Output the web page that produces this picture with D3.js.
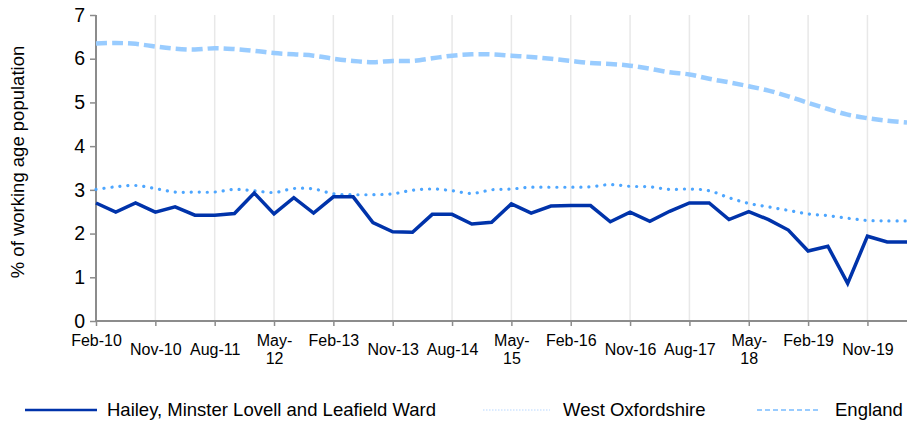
<!DOCTYPE html>
<html>
<head>
<meta charset="utf-8">
<script src="https://cdn.jsdelivr.net/npm/d3@7"></script>
<style>
  body { margin: 0; background: #fff; }
  svg { display: block; font-family: "Liberation Sans", Arial, sans-serif; }
</style>
</head>
<body>
<svg width="907" height="423"></svg>
<script>
// quarterly categories, Feb-10 .. May-20
var categories = ["Feb-10","May-10","Aug-10","Nov-10","Feb-11","May-11","Aug-11","Nov-11",
  "Feb-12","May-12","Aug-12","Nov-12","Feb-13","May-13","Aug-13","Nov-13",
  "Feb-14","May-14","Aug-14","Nov-14","Feb-15","May-15","Aug-15","Nov-15",
  "Feb-16","May-16","Aug-16","Nov-16","Feb-17","May-17","Aug-17","Nov-17",
  "Feb-18","May-18","Aug-18","Nov-18","Feb-19","May-19","Aug-19","Nov-19",
  "Feb-20","May-20"];

var hailey = [2.70,2.49,2.70,2.49,2.61,2.42,2.42,2.46,2.93,2.45,2.82,2.47,
  2.84,2.84,2.25,2.04,2.03,2.44,2.44,2.22,2.26,2.68,2.47,2.63,
  2.64,2.64,2.27,2.49,2.28,2.51,2.70,2.70,2.32,2.50,2.32,2.08,
  1.60,1.71,0.86,1.94,1.81,1.81];

var westOxon = [3.01,3.07,3.10,3.03,2.95,2.95,2.95,3.01,2.98,2.94,3.03,3.02,
  2.91,2.89,2.89,2.91,2.99,3.02,2.98,2.92,3.00,3.02,3.06,3.06,
  3.06,3.07,3.12,3.08,3.07,3.01,3.02,2.98,2.82,2.69,2.61,2.53,
  2.45,2.41,2.35,2.30,2.29,2.29];

var england = [6.35,6.36,6.34,6.28,6.23,6.21,6.24,6.22,6.18,6.13,6.10,6.07,
  6.00,5.95,5.92,5.95,5.95,6.01,6.07,6.10,6.10,6.07,6.04,6.00,
  5.95,5.90,5.88,5.84,5.77,5.69,5.64,5.54,5.46,5.37,5.27,5.14,
  4.99,4.85,4.72,4.64,4.58,4.54];

var yTicks = [0,1,2,3,4,5,6,7];
var seriesNames = ["Hailey, Minster Lovell and Leafield Ward", "West Oxfordshire", "England"];

var svg = d3.select("svg"),
    margin = {top: 15, right: 0, bottom: 102, left: 96},
    width = +svg.attr("width") - margin.left - margin.right,
    height = +svg.attr("height") - margin.top - margin.bottom;

var x = d3.scalePoint().domain(categories).range([0, width]);
var y = d3.scaleLinear().domain([0, 7]).range([height, 0]);

var g = svg.append("g")
    .attr("transform", "translate(" + margin.left + "," + margin.top + ")");

// every third category gets a tick + gridline
var tickCats = categories.filter(function(d, i) { return i % 3 == 0; });

g.append("g").selectAll("line").data(tickCats.slice(1)).enter().append("line")
    .attr("x1", d => x(d)).attr("x2", d => x(d))
    .attr("y1", 0).attr("y2", height)
    .attr("stroke", "#e8e8e8").attr("stroke-width", 1.5);

// y axis
var yAxis = g.append("g")
    .call(d3.axisLeft(y).tickValues(yTicks).tickSize(6).tickPadding(5).tickFormat(d3.format("d")));
yAxis.select(".domain").attr("stroke", "#8c8c8c").attr("stroke-width", 2).attr("d", "M0," + height + "V0");
yAxis.selectAll(".tick line").attr("stroke", "#8c8c8c").attr("stroke-width", 1.5);
yAxis.selectAll("text").attr("font-size", 19.5).attr("fill", "#000")
    .attr("font-family", "Liberation Sans, Arial, sans-serif");

// x axis
var xAxis = g.append("g")
    .attr("transform", "translate(0," + height + ")")
    .call(d3.axisBottom(x).tickValues(tickCats).tickSize(5).tickFormat(""));
xAxis.select(".domain").attr("stroke", "#8c8c8c").attr("stroke-width", 2).attr("d", "M0,0H" + width);
xAxis.selectAll(".tick line").attr("stroke", "#8c8c8c").attr("stroke-width", 1.5);

// category labels, excel style: Feb on top row, May wrapped, others centred
var lbl = xAxis.selectAll(".tick").append("text")
    .attr("fill", "#000").attr("font-size", 16)
    .attr("font-family", "Liberation Sans, Arial, sans-serif")
    .attr("text-anchor", "middle");
lbl.each(function(d) {
  var t = d3.select(this), m = d.split("-")[0];
  if (m == "May") {
    t.append("tspan").attr("x", 0).attr("y", 25).text("May-");
    t.append("tspan").attr("x", 0).attr("y", 43).text(d.split("-")[1]);
  } else if (m == "Feb") {
    t.attr("y", 25).text(d);
  } else {
    t.attr("y", 34).text(d);
  }
});

// y axis title
svg.append("text")
    .attr("transform", "translate(24," + (margin.top + height / 2 - 6) + ") rotate(-90)")
    .attr("text-anchor", "middle")
    .attr("font-size", 18.5)
    .text("% of working age population");

// lines
var straight = d3.line().x((d, i) => x(categories[i])).y(d => y(d));
var smooth = d3.line().x((d, i) => x(categories[i])).y(d => y(d)).curve(d3.curveCatmullRom.alpha(0.5));

g.append("path").datum(england)
    .attr("fill", "none").attr("stroke", "#99ccff").attr("stroke-width", 4.5)
    .attr("stroke-dasharray", "11 5")
    .attr("d", smooth);

g.append("path").datum(westOxon)
    .attr("fill", "none").attr("stroke", "#4da6ff").attr("stroke-width", 3.2)
    .attr("stroke-linecap", "round")
    .attr("stroke-dasharray", "0.1 7.9")
    .attr("d", smooth);

g.append("path").datum(hailey)
    .attr("fill", "none").attr("stroke", "#0033aa").attr("stroke-width", 3.5)
    .attr("stroke-linejoin", "miter")
    .attr("d", straight);

// legend
var legendItems = [
  {name: seriesNames[0], x1: 25, x2: 97, tx: 107, stroke: "#0033aa", w: 2.5, dash: null},
  {name: seriesNames[1], x1: 483, x2: 550, tx: 563, stroke: "#cfe5ff", w: 1.5, dash: "1.5 1.5"},
  {name: seriesNames[2], x1: 757, x2: 818, tx: 835, stroke: "#99ccff", w: 2, dash: "5 3"}
];
var leg = svg.append("g").selectAll("g").data(legendItems).enter().append("g");
leg.append("line")
    .attr("x1", d => d.x1).attr("x2", d => d.x2)
    .attr("y1", 410).attr("y2", 410)
    .attr("stroke", d => d.stroke).attr("stroke-width", d => d.w)
    .attr("stroke-dasharray", d => d.dash);
leg.append("text")
    .attr("x", d => d.tx).attr("y", 416)
    .attr("font-size", 18.5)
    .text(d => d.name);
</script>
</body>
</html>
